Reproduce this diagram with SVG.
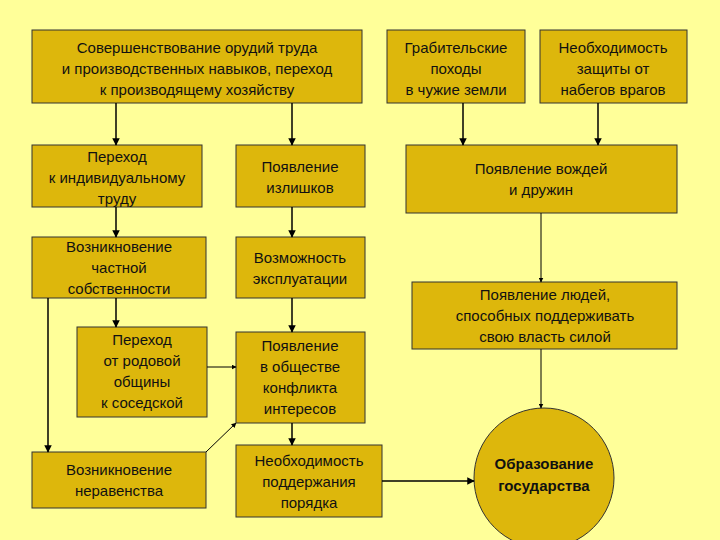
<svg xmlns="http://www.w3.org/2000/svg" width="720" height="540" viewBox="0 0 720 540">
<style>
.b{fill:#DDB70C;stroke:#333;stroke-width:1}
text{font-family:"Liberation Sans",Arial,sans-serif;font-size:15px;fill:#111;text-anchor:middle}
.c line,.c polyline{stroke:#000;stroke-width:1.5;fill:none;marker-end:url(#a)}
</style>
<defs><marker id="a" viewBox="0 0 10 10" refX="9" refY="5" markerWidth="5" markerHeight="5" orient="auto"><path d="M0,0L10,5L0,10z" fill="#000"/></marker></defs>
<rect width="720" height="540" fill="#FFFF99"/>
<g id="n1"><rect class="b" x="32" y="30" width="330" height="73"/><text x="197" y="53">Совершенствование орудий труда</text><text x="197" y="74">и производственных навыков, переход</text><text x="197" y="95">к производящему хозяйству</text></g>
<g id="n2"><rect class="b" x="387" y="30" width="138" height="73"/><text x="456" y="53">Грабительские</text><text x="456" y="74">походы</text><text x="456" y="95">в чужие земли</text></g>
<g id="n3"><rect class="b" x="540" y="30" width="147" height="73"/><text x="613" y="53">Необходимость</text><text x="613" y="74">защиты от</text><text x="613" y="95">набегов врагов</text></g>
<g id="n4"><rect class="b" x="32" y="145" width="170" height="62"/><text x="117" y="162">Переход</text><text x="117" y="183">к индивидуальному</text><text x="117" y="204">труду</text></g>
<g id="n5"><rect class="b" x="236" y="145" width="129" height="62"/><text x="300" y="172">Появление</text><text x="300" y="193">излишков</text></g>
<g id="n6"><rect class="b" x="406" y="145" width="271" height="68"/><text x="541" y="174">Появление вождей</text><text x="541" y="195">и дружин</text></g>
<g id="n7"><rect class="b" x="32" y="237" width="174" height="61"/><text x="119" y="252">Возникновение</text><text x="119" y="273">частной</text><text x="119" y="294">собственности</text></g>
<g id="n8"><rect class="b" x="236" y="237" width="129" height="61"/><text x="300" y="263">Возможность</text><text x="300" y="284">эксплуатации</text></g>
<g id="n9"><rect class="b" x="412" y="282" width="265" height="67"/><text x="545" y="300">Появление людей,</text><text x="545" y="321">способных поддерживать</text><text x="545" y="342">свою власть силой</text></g>
<g id="n10"><rect class="b" x="77" y="327" width="130" height="90"/><text x="142" y="345">Переход</text><text x="142" y="366">от родовой</text><text x="142" y="387">общины</text><text x="142" y="408">к соседской</text></g>
<g id="n11"><rect class="b" x="236" y="332" width="129" height="91"/><text x="300" y="351">Появление</text><text x="300" y="372">в обществе</text><text x="300" y="393">конфликта</text><text x="300" y="414">интересов</text></g>
<g id="n12"><rect class="b" x="32" y="452" width="174" height="56"/><text x="119" y="475">Возникновение</text><text x="119" y="496">неравенства</text></g>
<g id="n13"><rect class="b" x="236" y="445" width="146" height="72"/><text x="309" y="466">Необходимость</text><text x="309" y="487">поддержания</text><text x="309" y="508">порядка</text></g>
<g id="n14"><circle class="b" cx="544" cy="478" r="70"/><text x="544" y="469" font-weight="bold">Образование</text><text x="544" y="491" font-weight="bold">государства</text></g>
<g class="c" id="connectors">
<line x1="116" y1="103" x2="116" y2="145"/>
<line x1="292" y1="103" x2="292" y2="145"/>
<line x1="463" y1="103" x2="463" y2="145"/>
<line x1="598" y1="103" x2="598" y2="145"/>
<line x1="116" y1="207" x2="116" y2="237"/>
<line x1="292" y1="207" x2="292" y2="237"/>
<line x1="116" y1="298" x2="116" y2="327"/>
<line x1="292" y1="298" x2="292" y2="332"/>
<line x1="48" y1="298" x2="48" y2="452"/>
<line x1="292" y1="423" x2="292" y2="445"/>
<line x1="207" y1="367" x2="236" y2="367" style="stroke-width:1"/>
<line x1="206" y1="452" x2="236" y2="423" style="stroke-width:1"/>
<line x1="382" y1="481" x2="474" y2="481"/>
<line x1="541" y1="213" x2="541" y2="282" style="stroke-width:1"/>
<line x1="541" y1="349" x2="541" y2="408" style="stroke-width:1"/>
</g>
</svg>
